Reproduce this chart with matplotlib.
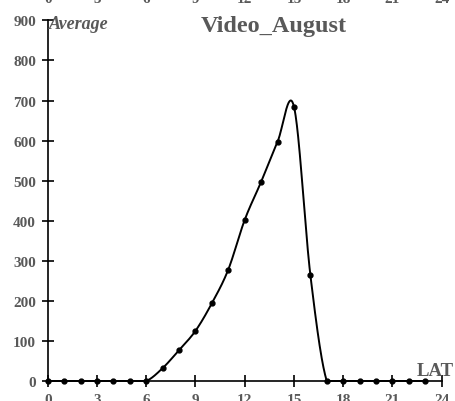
import numpy as np
import matplotlib
matplotlib.use("Agg")
from matplotlib import pyplot as plt

# hourly average, Video_August
hours = list(range(24))
average = [0, 0, 0, 0, 0, 0, 0, 32, 77, 125, 194, 278, 402, 497, 597, 685, 265, 0, 0, 0, 0, 0, 0, 0]
xticks = [0, 3, 6, 9, 12, 15, 18, 21, 24]
yticks = [0, 100, 200, 300, 400, 500, 600, 700, 800, 900]

grey = '#595959'
plt.rcParams['font.family'] = ['Liberation Serif', 'DejaVu Serif']


def smooth(xs, ys, n=40):
    # cubic bezier through the points, control points from neighbours (spreadsheet style smoothing)
    xs = np.asarray(xs, float)
    ys = np.asarray(ys, float)
    px = np.concatenate([[xs[0]], xs, [xs[-1]]])
    py = np.concatenate([[ys[0]], ys, [ys[-1]]])
    t = np.linspace(0, 1, n)[:, None]
    out_x, out_y = [], []
    for i in range(1, len(px) - 2):
        p0 = np.array([px[i], py[i]])
        p3 = np.array([px[i + 1], py[i + 1]])
        c1 = p0 + (np.array([px[i + 1], py[i + 1]]) - np.array([px[i - 1], py[i - 1]])) / 6
        c2 = p3 - (np.array([px[i + 2], py[i + 2]]) - p0) / 6
        seg = (1 - t) ** 3 * p0 + 3 * (1 - t) ** 2 * t * c1 + 3 * (1 - t) * t ** 2 * c2 + t ** 3 * p3
        out_x.append(seg[:, 0])
        out_y.append(seg[:, 1])
    return np.concatenate(out_x), np.concatenate(out_y)


fig = plt.figure(figsize=(4.56, 4.02), dpi=100)
ax = fig.add_axes([0.1046, 0.0498, 0.864, 0.897])

sx, sy = smooth(hours, average)
ax.plot(sx, np.maximum(sy, 0), color='black', lw=1.4, clip_on=False, zorder=3)
ax.plot(hours, average, 'o', color='black', ms=3.5, clip_on=False, zorder=4)

ax.set_xlim(0, 24)
ax.set_ylim(0, 900)
ax.set_xticks(xticks)
ax.set_yticks(yticks)
for s in ['top', 'right']:
    ax.spines[s].set_visible(False)
for s in ['left', 'bottom']:
    ax.spines[s].set_linewidth(1.2)
ax.tick_params(direction='inout', length=9, width=1.2, labelsize=11, labelcolor=grey, pad=4)
for lab in ax.get_xticklabels() + ax.get_yticklabels():
    lab.set_fontweight('bold')

# hour labels of the panel above, only their lower edge shows
for h in xticks:
    ax.annotate(str(h), xy=(h, 0), xycoords=('data', 'figure fraction'),
                xytext=(h, 0.9925), textcoords=('data', 'figure fraction'),
                fontsize=11, fontweight='bold', color=grey, ha='center', va='baseline',
                annotation_clip=False)

ax.text(0.003, 0.99, 'Average', transform=ax.transAxes, fontsize=13, fontweight='bold',
        fontstyle='italic', color=grey, va='center', ha='left')
fig.text(0.996, 0.065, 'LAT', fontsize=13.5, fontweight='bold',
         color=grey, va='baseline', ha='right')
fig.text(0.601, 0.935, 'Video_August', fontsize=17.5, fontweight='bold', color=grey,
         ha='center', va='center')

fig.savefig('out.png', dpi=100)
